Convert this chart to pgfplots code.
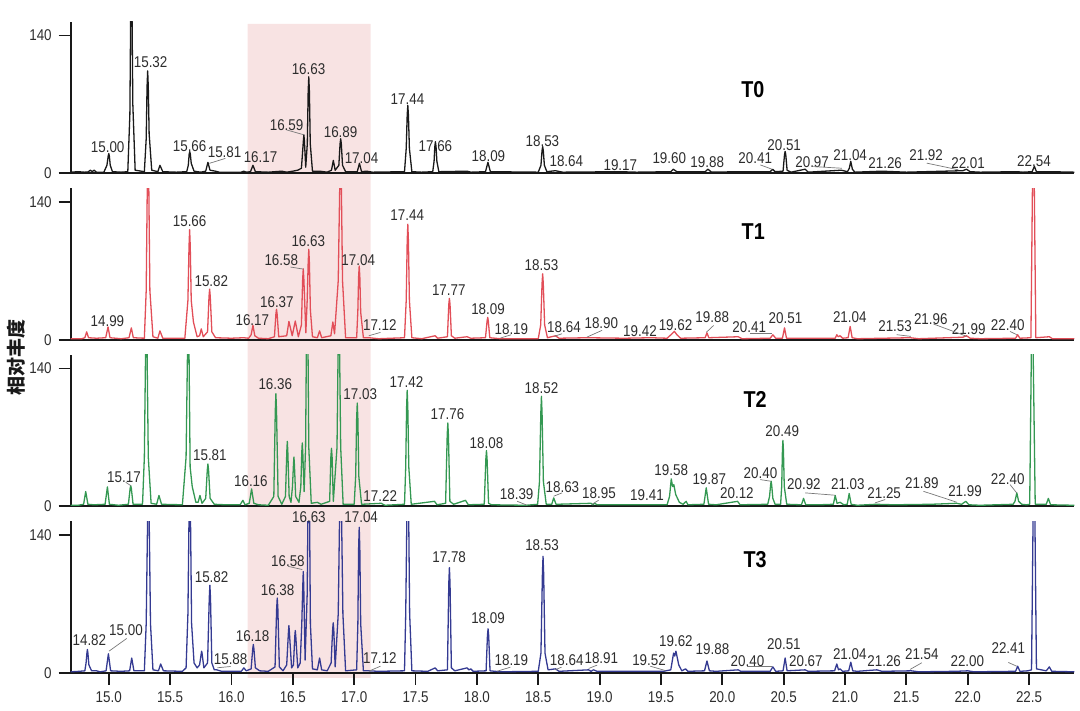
\documentclass[border=0pt]{standalone}
\usepackage{fontspec}
\setmainfont{Liberation Sans}[FakeStretch=0.86]
\newfontfamily\cjk{Noto Sans CJK SC}
\usepackage{pgfplots}
\pgfplotsset{compat=1.18}

\definecolor{cT0}{RGB}{25,25,25}
\definecolor{cT1}{RGB}{226,78,88}
\definecolor{cT2}{RGB}{52,152,82}
\definecolor{cT3}{RGB}{52,58,146}
\definecolor{shade}{RGB}{248,227,227}
\definecolor{lab}{RGB}{45,45,45}
\definecolor{lead}{RGB}{120,120,120}

\newcommand\lbfont{\fontsize{7.8}{9}\selectfont}

\pgfplotsset{
  panel/.style={
    x=61.4pt, y=0.492pt, anchor=south west,
    xmin=14.69, xmax=22.87, ymin=0, ymax=154,
    axis lines*=left,
    axis line style={line width=1pt,black!90},
    xtick=\empty, ytick={0,140}, yticklabels={0,140},
    tick align=outside, major tick length=6pt,
    tick style={line width=0.9pt,black!90},
    ticklabel style={font=\lbfont,text=lab},
    clip mode=individual,
  },
  trace/.style={line width=0.65pt, line join=round},
}
\tikzset{
  pl/.style={font=\lbfont,text=lab,inner sep=0pt},
  ld/.style={draw=lead,line width=0.35pt},
  tl/.style={font=\fontsize{11.5}{13}\selectfont\bfseries,text=black,inner sep=0pt},
}

\begin{document}
\begin{tikzpicture}

% background: shaded window and y label, units of one pixel
\begin{axis}[
  at={(0,-3pt)}, anchor=south west,
  x=61.4pt, y=0.5pt,
  xmin=14.69, xmax=22.87, ymin=-6, ymax=650,
  hide axis, clip mode=individual,
]
\addplot[fill=shade, draw=none] coordinates {
  (16.131,-5) (17.133,-5) (17.133,649.3) (16.131,649.3)} \closedcycle;
\path (axis cs:14.12,-37.7) rectangle (axis cs:22.915,673.3);
\node[rotate=90, font=\cjk\bfseries\fontsize{9.5}{11}\selectfont, text=black!90]
  at (axis cs:14.242,315.3) {相对丰度};
\end{axis}

% T0
\begin{axis}[panel, at={(0,250pt)}]
\addplot[trace, cT0] coordinates {
(14.69,1) (14.75,1.5) (14.80,1) (14.83,1.2) (14.85,3) (14.865,1.5) (14.88,3) (14.9,1)
(14.96,1) (14.985,8) (14.995,17) (15.00,20) (15.005,17) (15.012,8) (15.03,1.5) (15.10,1)
(15.155,1.5) (15.172,60) (15.179,170) (15.184,200) (15.189,170) (15.196,70) (15.215,3)
(15.29,1.5) (15.305,35) (15.312,88) (15.317,104) (15.322,88) (15.329,40) (15.35,3)
(15.40,1.5) (15.417,8) (15.44,1.5) (15.55,1) (15.635,1.5) (15.648,8) (15.655,19)
(15.66,22) (15.665,19) (15.672,10) (15.695,2) (15.75,1) (15.79,2) (15.808,11) (15.825,3)
(15.87,2) (15.90,1) (16.08,1) (16.10,2) (16.12,1) (16.155,1.5) (16.175,8) (16.195,1.5)
(16.30,1) (16.41,2) (16.45,1) (16.50,2) (16.54,3) (16.57,5) (16.586,33) (16.59,39)
(16.594,33) (16.605,6) (16.618,30) (16.625,83) (16.63,98) (16.635,83) (16.642,30)
(16.66,2) (16.72,2) (16.78,1) (16.815,3) (16.83,13) (16.845,3) (16.875,8) (16.885,30)
(16.89,35) (16.895,30) (16.905,8) (16.93,1.5) (17.025,1.5) (17.043,10) (17.06,1.5)
(17.10,2) (17.15,1) (17.41,1.5) (17.424,25) (17.432,59) (17.437,69) (17.442,59)
(17.45,25) (17.47,1.5) (17.55,1) (17.64,1.5) (17.651,12) (17.657,27) (17.662,32)
(17.667,27) (17.674,12) (17.69,1.5) (17.92,2) (17.95,1) (18.07,1.5) (18.09,11)
(18.11,1.5) (18.50,1) (18.522,8) (18.531,23) (18.536,27) (18.541,23) (18.55,8)
(18.57,1.5) (18.64,2.5) (18.70,1) (19.17,1.5) (19.3,1) (19.58,1.5) (19.6,4) (19.63,1.5)
(19.86,1.5) (19.883,4) (19.91,1.2) (20.39,1.5) (20.41,4) (20.43,1.5) (20.495,2)
(20.507,19) (20.512,22) (20.517,19) (20.528,3) (20.56,1) (20.675,4) (20.70,1) (20.97,3)
(21.02,1.5) (21.035,5) (21.047,12) (21.06,4) (21.08,1) (21.30,2) (21.5,1) (21.96,2.5)
(21.99,4) (22.02,1.5) (22.1,1) (22.40,1.5) (22.45,1) (22.525,1.5) (22.543,7) (22.56,1.5)
(22.67,1.5) (22.87,1)};
\node[tl] at (axis cs:20.249,84.7) {T0};
\node[pl] at (axis cs:14.991,26.7) {15.00};
\node[pl] at (axis cs:15.341,113.1) {15.32};
\node[pl] at (axis cs:15.659,27.7) {15.66};
\node[pl] at (axis cs:15.944,21.6) {15.81};
\node[pl] at (axis cs:16.237,16.6) {16.17};
\node[pl] at (axis cs:16.449,49.1) {16.59};
\node[pl] at (axis cs:16.628,106) {16.63};
\node[pl] at (axis cs:16.889,42) {16.89};
\node[pl] at (axis cs:17.06,15.5) {17.04};
\node[pl] at (axis cs:17.434,75.5) {17.44};
\node[pl] at (axis cs:17.662,27.7) {17.66};
\node[pl] at (axis cs:18.094,17.6) {18.09};
\node[pl] at (axis cs:18.534,32.8) {18.53};
\node[pl] at (axis cs:18.729,12.5) {18.64};
\node[pl] at (axis cs:19.169,8.4) {19.17};
\node[pl] at (axis cs:19.568,15.5) {19.60};
\node[pl] at (axis cs:19.877,11.5) {19.88};
\node[pl] at (axis cs:20.268,15.5) {20.41};
\node[pl] at (axis cs:20.504,28.8) {20.51};
\node[pl] at (axis cs:20.732,11.5) {20.97};
\node[pl] at (axis cs:21.042,18.6) {21.04};
\node[pl] at (axis cs:21.327,10.5) {21.26};
\node[pl] at (axis cs:21.661,18.6) {21.92};
\node[pl] at (axis cs:22.003,10.5) {22.01};
\node[pl] at (axis cs:22.54,12.5) {22.54};
\draw[ld] (axis cs:15.82,10) -- (axis cs:15.95,15);
\draw[ld] (axis cs:16.449,44) -- (axis cs:16.59,39);
\draw[ld] (axis cs:20.31,8.4) -- (axis cs:20.405,4);
\draw[ld] (axis cs:20.743,6.7) -- (axis cs:20.974,5);
\draw[ld] (axis cs:21.666,10.2) -- (axis cs:21.924,3.4);
\end{axis}

% T1
\begin{axis}[panel, at={(0,166.67pt)}]
\addplot[trace, cT1] coordinates {
(14.69,1) (14.78,1) (14.805,2) (14.82,8) (14.835,2) (14.9,1.5) (14.975,2) (14.994,13)
(15.01,2) (15.1,1) (15.165,2) (15.184,12) (15.2,2) (15.29,1.5) (15.305,50) (15.315,170)
(15.32,200) (15.325,170) (15.335,50) (15.36,3) (15.40,1.5) (15.417,9) (15.44,1.5)
(15.62,1.5) (15.645,40) (15.654,95) (15.659,112) (15.664,95) (15.672,40) (15.69,18)
(15.72,3) (15.74,4) (15.754,11) (15.77,3) (15.805,8) (15.817,44) (15.822,51.5)
(15.827,44) (15.84,8) (15.87,2) (16.0,1.5) (16.10,2) (16.14,1.5) (16.16,5) (16.175,14.5)
(16.19,4) (16.22,1.5) (16.30,1) (16.35,3) (16.362,26) (16.367,31) (16.372,26) (16.385,3)
(16.45,4) (16.468,18.6) (16.495,4) (16.52,19) (16.545,3) (16.57,15) (16.58,61)
(16.585,72) (16.59,61) (16.606,7) (16.617,40) (16.625,78) (16.63,92) (16.635,78)
(16.643,30) (16.66,3) (16.70,2) (16.718,9) (16.735,2) (16.81,4) (16.826,18) (16.84,6)
(16.87,60) (16.884,170) (16.889,200) (16.894,170) (16.905,60) (16.93,2) (17.02,2)
(17.03,30) (17.036,64) (17.041,75) (17.046,64) (17.053,28) (17.075,2) (17.12,2)
(17.2,1) (17.41,2) (17.424,40) (17.432,100) (17.437,117.5) (17.442,100) (17.45,40)
(17.47,2) (17.55,1) (17.66,4) (17.68,1.5) (17.76,3) (17.771,36) (17.776,42) (17.781,36)
(17.792,4) (17.82,1.5) (17.92,3) (17.95,1.5) (18.07,2) (18.083,19) (18.088,22.7)
(18.093,19) (18.105,2) (18.19,1) (18.5,1) (18.52,15) (18.531,57) (18.536,67) (18.541,57)
(18.552,15) (18.575,2) (18.64,4) (18.67,1.5) (18.9,2) (19.2,1.5) (19.42,2) (19.55,1.5)
(19.59,6) (19.609,8.5) (19.63,5) (19.66,1.5) (19.86,2) (19.875,7) (19.89,2) (20.13,3)
(20.16,1) (20.39,1.5) (20.412,5) (20.435,1.5) (20.49,1.5) (20.507,12) (20.523,1.5)
(20.6,1.5) (20.7,1.5) (20.92,1.5) (20.933,5) (20.945,3) (20.96,4) (20.98,1.5)
(21.025,2) (21.042,13.5) (21.058,2) (21.1,1) (21.53,2) (21.6,1) (21.96,2.5) (21.99,4)
(22.02,1.5) (22.1,1) (22.39,1.5) (22.407,5) (22.425,1.5) (22.515,2) (22.527,150)
(22.535,250) (22.543,150) (22.555,2) (22.665,3) (22.69,1) (22.87,1)};
\node[tl] at (axis cs:20.252,110) {T1};
\node[pl] at (axis cs:14.989,18.6) {14.99};
\node[pl] at (axis cs:15.659,120.2) {15.66};
\node[pl] at (axis cs:15.836,59.2) {15.82};
\node[pl] at (axis cs:16.17,19.6) {16.17};
\node[pl] at (axis cs:16.37,37.9) {16.37};
\node[pl] at (axis cs:16.406,81.3) {16.58};
\node[pl] at (axis cs:16.626,100.6) {16.63};
\node[pl] at (axis cs:17.033,81.3) {17.04};
\node[pl] at (axis cs:17.209,14.5) {17.12};
\node[pl] at (axis cs:17.432,126.3) {17.44};
\node[pl] at (axis cs:17.771,50.8) {17.77};
\node[pl] at (axis cs:18.091,31.2) {18.09};
\node[pl] at (axis cs:18.281,11.2) {18.19};
\node[pl] at (axis cs:18.526,75.5) {18.53};
\node[pl] at (axis cs:18.71,12.5) {18.64};
\node[pl] at (axis cs:19.014,17) {18.90};
\node[pl] at (axis cs:19.329,8.4) {19.42};
\node[pl] at (axis cs:19.619,15.2) {19.62};
\node[pl] at (axis cs:19.918,22.7) {19.88};
\node[pl] at (axis cs:20.219,12.5) {20.41};
\node[pl] at (axis cs:20.515,22) {20.51};
\node[pl] at (axis cs:21.039,23.1) {21.04};
\node[pl] at (axis cs:21.408,13.5) {21.53};
\node[pl] at (axis cs:21.699,21) {21.96};
\node[pl] at (axis cs:22.008,10.9) {21.99};
\node[pl] at (axis cs:22.326,15.2) {22.40};
\draw[ld] (axis cs:16.481,73.9) -- (axis cs:16.585,71.8);
\draw[ld] (axis cs:17.119,4) -- (axis cs:17.214,7.4);
\draw[ld] (axis cs:18.192,1.7) -- (axis cs:18.279,5);
\draw[ld] (axis cs:18.631,3.4) -- (axis cs:18.694,6.1);
\draw[ld] (axis cs:18.898,2.7) -- (axis cs:19.02,9.5);
\draw[ld] (axis cs:19.869,7.4) -- (axis cs:19.929,14.5);
\draw[ld] (axis cs:20.227,6.8) -- (axis cs:20.404,6.8);
\draw[ld] (axis cs:21.421,5.1) -- (axis cs:21.536,3.4);
\draw[ld] (axis cs:21.72,16) -- (axis cs:21.992,3.4);
\draw[ld] (axis cs:22.345,8.4) -- (axis cs:22.399,5.1);
\end{axis}

% T2
\begin{axis}[panel, at={(0,83.33pt)}]
\addplot[trace, cT2] coordinates {
(14.69,1) (14.75,1) (14.795,2) (14.812,15) (14.83,2) (14.88,1.5) (14.97,2) (14.989,19.7)
(15.005,2) (15.08,1) (15.16,2) (15.174,18) (15.179,21) (15.184,18) (15.198,2)
(15.275,2) (15.29,50) (15.301,170) (15.306,200) (15.311,170) (15.322,50) (15.345,3)
(15.39,2) (15.409,11) (15.43,2) (15.6,1.5) (15.63,50) (15.643,170) (15.648,200)
(15.653,170) (15.663,40) (15.68,20) (15.71,4) (15.728,4) (15.743,11) (15.76,3)
(15.79,8) (15.803,37) (15.808,43) (15.813,37) (15.826,8) (15.86,2) (15.95,1.5)
(16.07,1.5) (16.093,6) (16.11,1.5) (16.145,3) (16.164,17.7) (16.182,3) (16.22,1.5)
(16.3,1) (16.345,10) (16.357,97) (16.362,114.5) (16.367,97) (16.38,10) (16.41,2)
(16.44,10) (16.451,56) (16.455,66) (16.459,56) (16.47,10) (16.485,4) (16.497,20)
(16.505,42) (16.509,50) (16.513,42) (16.523,10) (16.55,4) (16.565,20) (16.573,55)
(16.577,64.4) (16.581,55) (16.592,15) (16.604,60) (16.612,187) (16.617,220)
(16.622,187) (16.63,60) (16.65,3) (16.70,4) (16.73,2) (16.8,5) (16.81,50) (16.815,59)
(16.82,50) (16.83,5) (16.86,60) (16.87,170) (16.875,200) (16.88,170) (16.89,60)
(16.91,2) (17.0,2) (17.012,30) (17.02,89) (17.025,105) (17.03,89) (17.038,30) (17.06,2)
(17.22,3) (17.25,1) (17.41,2) (17.42,40) (17.427,100) (17.432,118) (17.437,100)
(17.445,40) (17.465,2) (17.654,5) (17.675,1.5) (17.745,3) (17.758,72) (17.763,84.7)
(17.768,72) (17.78,5) (17.81,2) (17.907,6) (17.93,1.5) (18.06,2) (18.073,48)
(18.078,56.6) (18.083,48) (18.095,3) (18.12,1.5) (18.40,1) (18.495,2) (18.51,25)
(18.521,95) (18.526,111.8) (18.531,95) (18.542,25) (18.565,2) (18.61,2) (18.626,8.5)
(18.645,2) (18.93,3) (18.945,1.5) (18.96,3) (18.98,1.5) (19.41,1.5) (19.55,1.5)
(19.57,10) (19.584,27.8) (19.595,20) (19.605,22) (19.62,12) (19.65,4) (19.68,2)
(19.705,5) (19.72,1.5) (19.85,2) (19.869,18.7) (19.888,2) (19.95,1.5) (20.124,5)
(20.145,1.5) (20.37,2) (20.385,10) (20.394,22) (20.398,25.4) (20.402,22) (20.412,8)
(20.43,2) (20.475,2) (20.484,20) (20.49,57) (20.494,67) (20.498,57) (20.505,20)
(20.525,2) (20.645,1.5) (20.662,8) (20.68,1.5) (20.79,1.5) (20.905,2) (20.92,11)
(20.935,3) (20.96,4) (20.99,1.5) (21.018,2) (21.034,13) (21.05,2) (21.1,1) (21.25,2)
(21.4,1.5) (21.7,2) (21.91,3) (21.95,2) (21.984,5) (22.01,1.5) (22.1,1) (22.37,2)
(22.385,5) (22.40,13.6) (22.415,5) (22.44,2) (22.48,1.5) (22.505,2) (22.518,150)
(22.526,250) (22.534,150) (22.55,2) (22.64,2) (22.657,8) (22.675,1.5) (22.87,1)};
\node[tl] at (axis cs:20.268,108.4) {T2};
\node[pl] at (axis cs:15.124,29.5) {15.17};
\node[pl] at (axis cs:15.824,51.5) {15.81};
\node[pl] at (axis cs:16.158,25.4) {16.16};
\node[pl] at (axis cs:16.357,124.4) {16.36};
\node[pl] at (axis cs:17.049,114.2) {17.03};
\node[pl] at (axis cs:17.212,10.2) {17.22};
\node[pl] at (axis cs:17.426,126.4) {17.42};
\node[pl] at (axis cs:17.76,93.2) {17.76};
\node[pl] at (axis cs:18.078,64.4) {18.08};
\node[pl] at (axis cs:18.324,11.9) {18.39};
\node[pl] at (axis cs:18.526,120.3) {18.52};
\node[pl] at (axis cs:18.697,19.7) {18.63};
\node[pl] at (axis cs:18.995,13.6) {18.95};
\node[pl] at (axis cs:19.386,11.2) {19.41};
\node[pl] at (axis cs:19.584,36.6) {19.58};
\node[pl] at (axis cs:19.894,27.1) {19.87};
\node[pl] at (axis cs:20.119,12.9) {20.12};
\node[pl] at (axis cs:20.311,33.9) {20.40};
\node[pl] at (axis cs:20.488,76.2) {20.49};
\node[pl] at (axis cs:20.665,22) {20.92};
\node[pl] at (axis cs:21.023,22) {21.03};
\node[pl] at (axis cs:21.319,13.6) {21.25};
\node[pl] at (axis cs:21.626,23.1) {21.89};
\node[pl] at (axis cs:21.978,15.2) {21.99};
\node[pl] at (axis cs:22.326,27.1) {22.40};
\draw[ld] (axis cs:15.138,24.4) -- (axis cs:15.179,21);
\draw[ld] (axis cs:18.328,5.1) -- (axis cs:18.409,1);
\draw[ld] (axis cs:18.626,10.2) -- (axis cs:18.694,13.6);
\draw[ld] (axis cs:18.938,2) -- (axis cs:18.992,6.1);
\draw[ld] (axis cs:20.309,27.1) -- (axis cs:20.398,25.4);
\draw[ld] (axis cs:20.675,13.6) -- (axis cs:20.92,11.2);
\draw[ld] (axis cs:21.245,3.4) -- (axis cs:21.327,6.8);
\draw[ld] (axis cs:21.639,15.2) -- (axis cs:21.911,4.1);
\draw[ld] (axis cs:22.345,22) -- (axis cs:22.399,13.6);
\end{axis}

% T3
\begin{axis}[panel, at={(0,0)},
  xtick={15,15.5,16,16.5,17,17.5,18,18.5,19,19.5,20,20.5,21,21.5,22,22.5},
  xticklabels={15.0,15.5,16.0,16.5,17.0,17.5,18.0,18.5,19.0,19.5,20.0,20.5,21.0,21.5,22.0,22.5},
]
\addplot[trace, cT3] coordinates {
(14.69,1) (14.76,1.5) (14.805,2) (14.815,10) (14.822,20) (14.826,23.7) (14.83,20)
(14.838,8) (14.86,2) (14.9,2) (14.93,1) (14.978,2) (14.997,19.3) (15.015,2) (15.1,1.5)
(15.17,2) (15.187,15) (15.205,2) (15.29,2) (15.305,50) (15.318,170) (15.323,200)
(15.328,170) (15.34,50) (15.36,3) (15.405,2) (15.423,9) (15.445,2) (15.6,1.5) (15.63,5)
(15.645,60) (15.655,170) (15.66,200) (15.665,170) (15.675,50) (15.695,10) (15.72,5)
(15.74,8) (15.753,19) (15.757,22) (15.761,19) (15.775,5) (15.805,10) (15.819,76)
(15.824,89) (15.829,76) (15.84,10) (15.86,3) (15.88,3) (15.92,1.5) (16.08,1.5)
(16.101,5) (16.12,2) (16.16,4) (16.173,24) (16.178,28.8) (16.183,24) (16.195,5)
(16.23,2) (16.3,1.5) (16.355,6) (16.368,65) (16.373,76) (16.378,65) (16.39,6) (16.42,2)
(16.45,8) (16.464,41) (16.468,48) (16.472,41) (16.49,5) (16.505,8) (16.516,37)
(16.52,43) (16.524,37) (16.54,5) (16.56,10) (16.573,50) (16.581,88) (16.585,103)
(16.589,88) (16.6,13) (16.617,80) (16.625,187) (16.63,220) (16.635,187) (16.643,50)
(16.66,4) (16.7,3) (16.718,15) (16.735,3) (16.78,2) (16.812,10) (16.824,43)
(16.829,50.8) (16.834,43) (16.845,6) (16.87,60) (16.884,187) (16.889,220) (16.894,187)
(16.908,60) (16.93,2) (17.02,3) (17.03,50) (17.036,126) (17.041,148) (17.046,126)
(17.053,50) (17.075,2) (17.12,2) (17.2,1.5) (17.41,2) (17.42,60) (17.432,187)
(17.437,220) (17.442,187) (17.452,60) (17.47,2) (17.6,1.5) (17.66,5) (17.68,2)
(17.76,3) (17.771,91) (17.776,107) (17.781,91) (17.792,5) (17.82,2) (17.92,5)
(17.935,3) (17.95,4) (17.97,1.5) (18.075,2) (18.086,38) (18.091,44.7) (18.096,38)
(18.107,2) (18.19,1) (18.5,1.5) (18.522,20) (18.534,101) (18.539,118.5) (18.544,101)
(18.555,20) (18.58,3) (18.64,4) (18.67,1.5) (18.91,3) (18.93,1.5) (18.95,3) (18.98,1.5)
(19.52,1.5) (19.58,3) (19.603,20) (19.612,17) (19.622,22) (19.645,8) (19.67,2)
(19.70,4) (19.72,1.5) (19.855,2) (19.875,12) (19.895,2) (19.95,1.5) (20.13,3)
(20.15,1.5) (20.39,1.5) (20.412,6) (20.435,1.5) (20.495,2) (20.512,15) (20.528,2)
(20.675,3) (20.7,1.5) (20.915,2) (20.933,9) (20.947,3) (20.96,4) (20.98,1.5) (21.03,2)
(21.047,10.8) (21.063,2) (21.1,1.5) (21.26,3) (21.3,1.5) (21.54,2) (21.6,1) (21.9,1.5)
(22.0,2) (22.05,1) (22.39,1.5) (22.407,6.7) (22.425,1.5) (22.49,2) (22.52,3)
(22.532,150) (22.54,250) (22.548,150) (22.56,4) (22.64,2) (22.665,6) (22.685,1.5)
(22.87,1)};
\node[tl] at (axis cs:20.268,115.1) {T3};
\node[pl] at (axis cs:14.842,32.8) {14.82};
\node[pl] at (axis cs:15.14,43.3) {15.00};
\node[pl] at (axis cs:15.838,97.6) {15.82};
\node[pl] at (axis cs:15.993,13.5) {15.88};
\node[pl] at (axis cs:16.172,37.2) {16.18};
\node[pl] at (axis cs:16.376,83.6) {16.38};
\node[pl] at (axis cs:16.46,113.4) {16.58};
\node[pl] at (axis cs:16.631,158.8) {16.63};
\node[pl] at (axis cs:17.057,158.8) {17.04};
\node[pl] at (axis cs:17.209,14.5) {17.12};
\node[pl] at (axis cs:17.774,117.5) {17.78};
\node[pl] at (axis cs:18.091,55.2) {18.09};
\node[pl] at (axis cs:18.281,12.8) {18.19};
\node[pl] at (axis cs:18.531,129.4) {18.53};
\node[pl] at (axis cs:18.732,12.8) {18.64};
\node[pl] at (axis cs:19.014,14.5) {18.91};
\node[pl] at (axis cs:19.403,12.8) {19.52};
\node[pl] at (axis cs:19.622,32.1) {19.62};
\node[pl] at (axis cs:19.92,23.7) {19.88};
\node[pl] at (axis cs:20.205,11.8) {20.40};
\node[pl] at (axis cs:20.502,28.8) {20.51};
\node[pl] at (axis cs:20.681,11.8) {20.67};
\node[pl] at (axis cs:21.039,19.3) {21.04};
\node[pl] at (axis cs:21.319,11.8) {21.26};
\node[pl] at (axis cs:21.626,18.6) {21.54};
\node[pl] at (axis cs:21.997,11.8) {22.00};
\node[pl] at (axis cs:22.331,25.4) {22.41};
\draw[ld] (axis cs:15.002,22) -- (axis cs:15.146,34.9);
\draw[ld] (axis cs:15.885,5.1) -- (axis cs:15.993,6.4);
\draw[ld] (axis cs:16.46,108.3) -- (axis cs:16.577,105);
\draw[ld] (axis cs:17.119,1.6) -- (axis cs:17.214,6.7);
\draw[ld] (axis cs:18.165,1.6) -- (axis cs:18.273,5.7);
\draw[ld] (axis cs:18.636,3) -- (axis cs:18.69,5.7);
\draw[ld] (axis cs:18.911,4.4) -- (axis cs:18.98,7.8);
\draw[ld] (axis cs:19.413,6.7) -- (axis cs:19.535,2.3);
\draw[ld] (axis cs:20.2,6.7) -- (axis cs:20.404,6.7);
\draw[ld] (axis cs:21.53,3.4) -- (axis cs:21.626,10.2);
\draw[ld] (axis cs:22.331,10.5) -- (axis cs:22.399,6.7);
\end{axis}

\end{tikzpicture}
\end{document}
